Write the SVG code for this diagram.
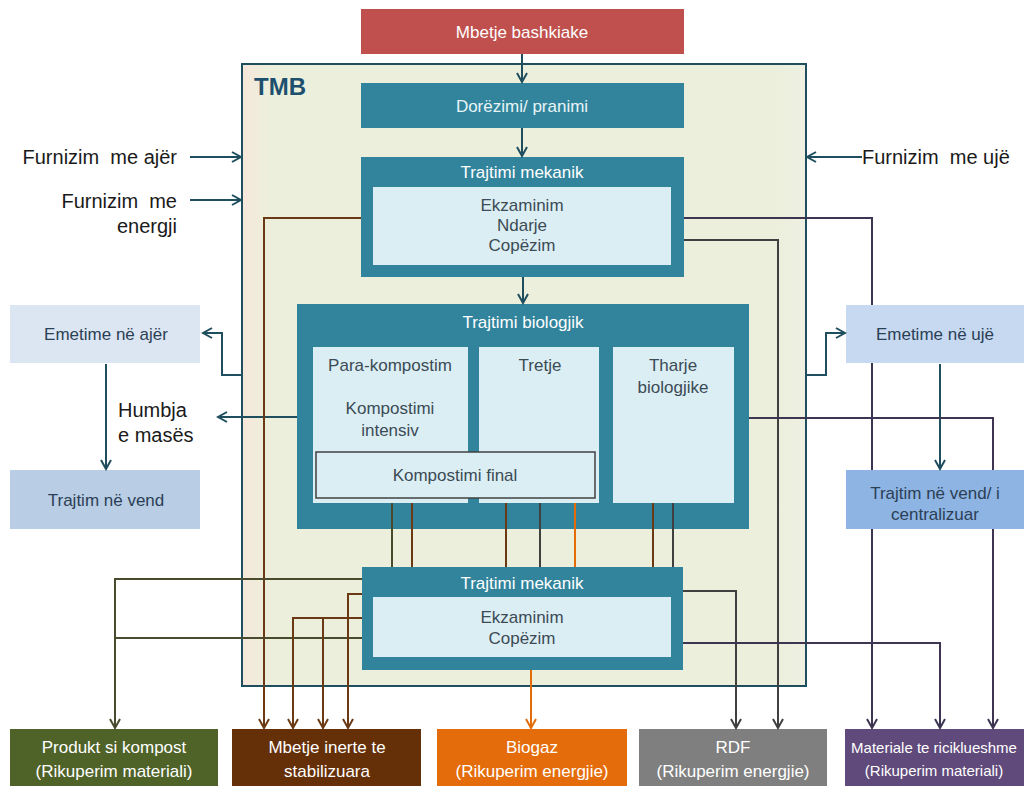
<svg xmlns="http://www.w3.org/2000/svg" width="1030" height="786" viewBox="0 0 1030 786">
<defs>
<style>
text{font-family:"Liberation Sans",Arial,sans-serif;}
.m{font-size:17px;text-anchor:middle}
.w{fill:#ffffff}
.d{fill:#3c4b55}
.e{fill:#2b3f55}
.lbl{font-size:20px;fill:#1a1a1a}
.teal{fill:#31849b}
.inner{fill:#dbeef4}
.c{fill:none;stroke-width:2}
.ct{stroke:#1f4e5f}
.co{stroke:#4a4a2e}
.cb{stroke:#6b3a14}
.cr{stroke:#e36c09}
.cg{stroke:#404040}
.cp{stroke:#3d3552}
</style>
<linearGradient id="tmbg" x1="0" y1="0" x2="1" y2="0">
<stop offset="0" stop-color="#f6e7da"/>
<stop offset="0.05" stop-color="#ecefdc"/>
<stop offset="0.95" stop-color="#ecefdc"/>
<stop offset="1" stop-color="#eef1e2"/>
</linearGradient>
<marker id="at" viewBox="0 0 12 12" refX="10" refY="6" markerWidth="12" markerHeight="12" markerUnits="userSpaceOnUse" orient="auto"><path d="M1,1 L10,6 L1,11" fill="none" stroke="#1f4e5f" stroke-width="2"/></marker>
<marker id="ao" viewBox="0 0 12 12" refX="10" refY="6" markerWidth="12" markerHeight="12" markerUnits="userSpaceOnUse" orient="auto"><path d="M1,1 L10,6 L1,11" fill="none" stroke="#4a4a2e" stroke-width="2"/></marker>
<marker id="ab" viewBox="0 0 12 12" refX="10" refY="6" markerWidth="12" markerHeight="12" markerUnits="userSpaceOnUse" orient="auto"><path d="M1,1 L10,6 L1,11" fill="none" stroke="#6b3a14" stroke-width="2"/></marker>
<marker id="ar" viewBox="0 0 12 12" refX="10" refY="6" markerWidth="12" markerHeight="12" markerUnits="userSpaceOnUse" orient="auto"><path d="M1,1 L10,6 L1,11" fill="none" stroke="#e36c09" stroke-width="2"/></marker>
<marker id="ag" viewBox="0 0 12 12" refX="10" refY="6" markerWidth="12" markerHeight="12" markerUnits="userSpaceOnUse" orient="auto"><path d="M1,1 L10,6 L1,11" fill="none" stroke="#404040" stroke-width="2"/></marker>
<marker id="ap" viewBox="0 0 12 12" refX="10" refY="6" markerWidth="12" markerHeight="12" markerUnits="userSpaceOnUse" orient="auto"><path d="M1,1 L10,6 L1,11" fill="none" stroke="#3d3552" stroke-width="2"/></marker>
</defs>
<rect x="0" y="0" width="1030" height="786" fill="#ffffff"/>

<g id="tmb">
<rect x="242" y="64" width="564" height="622" fill="url(#tmbg)" stroke="#1f4e5f" stroke-width="2"/>
<text x="254" y="95" font-size="24" font-weight="bold" fill="#1d4f6e">TMB</text>
</g>

<g id="mbetje-bashkiake">
<rect x="361" y="9" width="323" height="45" fill="#c0504d"/>
<text class="m w" x="522" y="38">Mbetje bashkiake</text>
</g>

<g id="dorezimi">
<rect class="teal" x="361" y="83" width="323" height="45"/>
<text class="m" x="522" y="112" fill="#e8f4f8">Dorëzimi/ pranimi</text>
</g>

<g id="trajtimi-mekanik-1">
<rect class="teal" x="361" y="157" width="323" height="120"/>
<text class="m w" x="522" y="178">Trajtimi mekanik</text>
<rect class="inner" x="373" y="187" width="298" height="78"/>
<text class="m d" x="522" y="211">Ekzaminim</text>
<text class="m d" x="522" y="231">Ndarje</text>
<text class="m d" x="522" y="251">Copëzim</text>
</g>

<g id="trajtimi-biologjik">
<rect class="teal" x="297" y="304" width="452" height="225"/>
<text class="m w" x="523" y="328">Trajtimi biologjik</text>
<rect class="inner" x="313" y="347" width="155" height="156"/>
<rect class="inner" x="479" y="347" width="120" height="156"/>
<rect class="inner" x="613" y="347" width="121" height="156"/>
<text class="m d" x="390" y="371">Para-kompostim</text>
<text class="m d" x="390" y="414">Kompostimi</text>
<text class="m d" x="390" y="436">intensiv</text>
<text class="m d" x="540" y="371">Tretje</text>
<text class="m d" x="673" y="371">Tharje</text>
<text class="m d" x="673" y="393">biologjike</text>
<g id="kompostimi-final">
<rect x="316" y="452" width="279" height="46" fill="#dbeef4" stroke="#404040" stroke-width="1.5"/>
<text class="m d" x="455" y="481">Kompostimi final</text>
</g>
</g>

<g id="trajtimi-mekanik-2">
<rect class="teal" x="362" y="567" width="321" height="103"/>
<text class="m w" x="522" y="589">Trajtimi mekanik</text>
<rect class="inner" x="373" y="597" width="298" height="60"/>
<text class="m d" x="522" y="623">Ekzaminim</text>
<text class="m d" x="522" y="644">Copëzim</text>
</g>

<g id="emetime-ajer">
<rect x="10" y="305" width="190" height="58" fill="#dce6f2"/>
<text class="m e" x="106" y="340">Emetime në ajër</text>
</g>
<g id="trajtim-vend">
<rect x="10" y="470" width="190" height="59" fill="#b9cde5"/>
<text class="m e" x="106" y="506">Trajtim në vend</text>
</g>
<g id="emetime-uje">
<rect x="846" y="305" width="178" height="58" fill="#c6d9f1"/>
<text class="m e" x="935" y="340">Emetime në ujë</text>
</g>
<g id="trajtim-vend-centralizuar">
<rect x="846" y="470" width="178" height="59" fill="#8eb4e3"/>
<text class="m e" x="935" y="499">Trajtim në vend/ i</text>
<text class="m e" x="935" y="520">centralizuar</text>
</g>

<g id="label-ajer"><text class="lbl" x="177" y="164" text-anchor="end">Furnizim&#160; me ajër</text></g>
<g id="label-energji">
<text class="lbl" x="177" y="208" text-anchor="end">Furnizim&#160; me</text>
<text class="lbl" x="177" y="233" text-anchor="end">energji</text>
</g>
<g id="label-uje"><text class="lbl" x="862" y="164">Furnizim&#160; me ujë</text></g>
<g id="label-humbja">
<text class="lbl" x="118" y="417">Humbja</text>
<text class="lbl" x="118" y="442">e masës</text>
</g>

<g id="produkt-kompost">
<rect x="10" y="729" width="208" height="57" fill="#4f6228"/>
<text class="m w" x="114" y="753">Produkt si kompost</text>
<text class="m w" x="114" y="777">(Rikuperim materiali)</text>
</g>
<g id="mbetje-inerte">
<rect x="232" y="729" width="189" height="57" fill="#652f08"/>
<text class="m w" x="327" y="753">Mbetje inerte te</text>
<text class="m w" x="327" y="777">stabilizuara</text>
</g>
<g id="biogaz">
<rect x="437" y="729" width="190" height="57" fill="#e46c0a"/>
<text class="m w" x="532" y="753">Biogaz</text>
<text class="m w" x="532" y="777">(Rikuperim energjie)</text>
</g>
<g id="rdf">
<rect x="639" y="729" width="188" height="57" fill="#7f7f7f"/>
<text class="m w" x="733" y="753">RDF</text>
<text class="m w" x="733" y="777">(Rikuperim energjie)</text>
</g>
<g id="materiale">
<rect x="845" y="729" width="179" height="57" fill="#604a7b"/>
<text class="w" x="934" y="753" font-size="15" text-anchor="middle">Materiale te riciklueshme</text>
<text class="w" x="934" y="776" font-size="15" text-anchor="middle">(Rikuperim materiali)</text>
</g>

<g id="connectors">
<path class="c ct" d="M522,54 V82" marker-end="url(#at)"/>
<path class="c ct" d="M522,128 V156" marker-end="url(#at)"/>
<path class="c ct" d="M523,277 V303" marker-end="url(#at)"/>
<path class="c ct" d="M190,157 H241" marker-end="url(#at)"/>
<path class="c ct" d="M190,200 H241" marker-end="url(#at)"/>
<path class="c ct" d="M862,157 H807" marker-end="url(#at)"/>
<path class="c ct" d="M242,375 H222 V333 H203" marker-end="url(#at)"/>
<path class="c ct" d="M297,417 H218" marker-end="url(#at)"/>
<path class="c ct" d="M106,364 V469" marker-end="url(#at)"/>
<path class="c ct" d="M806,375 H826 V333 H845" marker-end="url(#at)"/>
<path class="c ct" d="M940,364 V469" marker-end="url(#at)"/>

<path class="c cb" d="M361,218 H264 V728" marker-end="url(#ab)"/>
<path class="c cp" d="M684,218 H872 V305 M872,363 V470 M872,529 V728" marker-end="url(#ap)"/>
<path class="c cg" d="M684,240 H778 V728" marker-end="url(#ag)"/>
<path class="c cp" d="M749,418 H993 V470 M993,529 V728" marker-end="url(#ap)"/>

<path class="c co" d="M392,503 V567"/>
<path class="c cb" d="M412,503 V567"/>
<path class="c cb" d="M506,503 V567"/>
<path class="c cg" d="M540,503 V567"/>
<path class="c cr" d="M575,503 V567"/>
<path class="c cb" d="M653,503 V567"/>
<path class="c cg" d="M673,503 V567"/>

<path class="c co" d="M362,579 H115 V728" marker-end="url(#ao)"/>
<path class="c co" d="M362,638 H115"/>
<path class="c cb" d="M362,594 H348 V728" marker-end="url(#ab)"/>
<path class="c cb" d="M362,618 H293 V728" marker-end="url(#ab)"/>
<path class="c cb" d="M323,618 V728" marker-end="url(#ab)"/>
<path class="c cr" d="M531,670 V728" marker-end="url(#ar)"/>
<path class="c cg" d="M683,591 H736 V728" marker-end="url(#ag)"/>
<path class="c cp" d="M683,643 H940 V728" marker-end="url(#ap)"/>
</g>
</svg>
